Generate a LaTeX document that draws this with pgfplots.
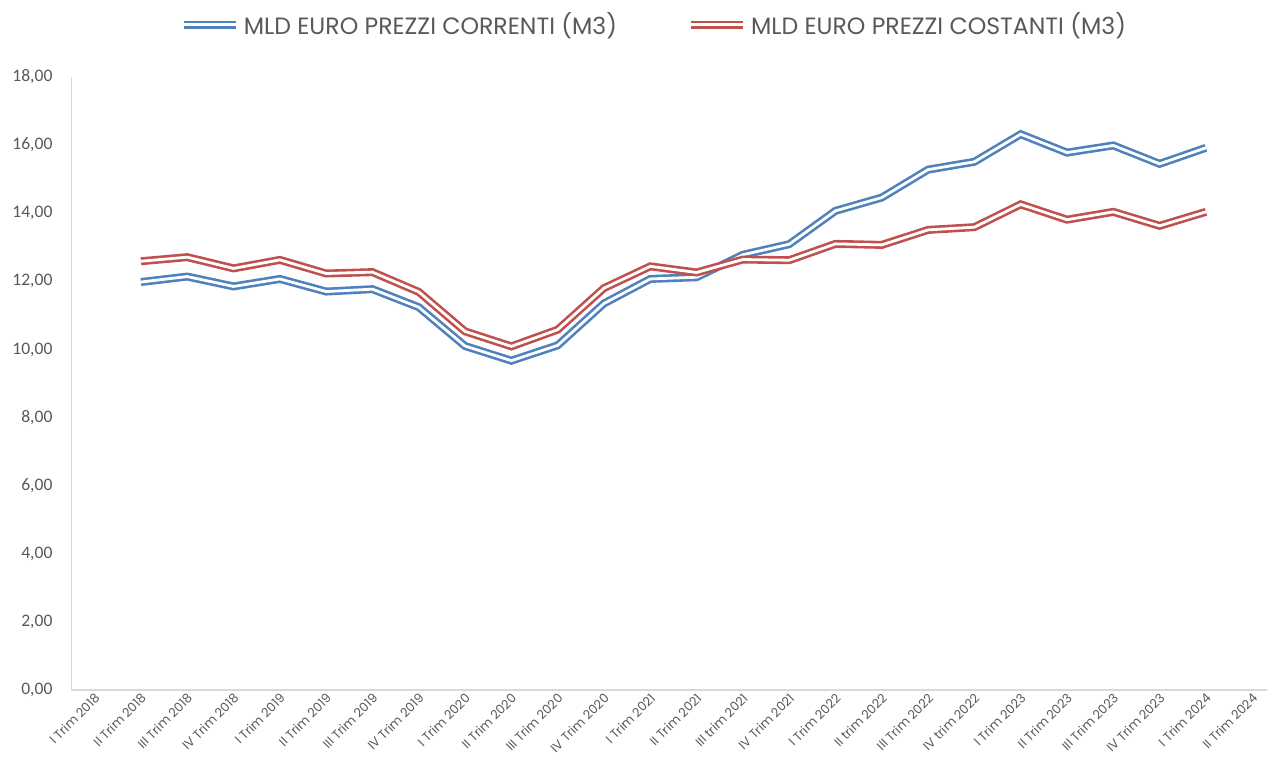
\documentclass[border=0pt]{standalone}
\usepackage{fontspec}
\setmainfont{Poppins}
\newfontfamily\carlito{Carlito}
\usepackage{pgfplots}
\pgfplotsset{compat=1.18}
\definecolor{cblue}{HTML}{4F81BD}
\definecolor{cred}{HTML}{C0504D}
\definecolor{ctext}{HTML}{595959}
\definecolor{caxis}{HTML}{D9D9D9}
\begin{document}
\begin{tikzpicture}
\path[use as bounding box] (0,0) rectangle (633.5pt,380pt);
\begin{axis}[
  at={(35.75pt,35pt)}, anchor=south west,
  scale only axis, width=597.75pt, height=306.5pt,
  xmin=-0.5, xmax=25.32, ymin=0, ymax=18,
  axis x line=bottom, axis y line=left,
  axis line style={-, draw=caxis, line width=0.6pt},
  major tick length=0pt,
  xtick={0,...,25},
  xticklabels={I Trim 2018, II Trim 2018, III Trim 2018, IV Trim 2018, I Trim 2019, II Trim 2019, III Trim 2019, IV Trim 2019, I Trim 2020, II Trim 2020, III Trim 2020, IV Trim 2020, I Trim 2021, II Trim 2021, III trim 2021, IV Trim 2021, I Trim 2022, II trim 2022, III Trim 2022, IV trim 2022, I Trim 2023, II Trim 2023, III Trim 2023, IV Trim 2023, I Trim 2024, II Trim 2024},
  xticklabel style={rotate=45, anchor=east, font=\fontsize{6.3}{7}\selectfont, text=ctext, inner sep=1pt, yshift=-3pt},
  ytick={0,2,...,18},
  yticklabel={\pgfmathprintnumber[fixed,fixed zerofill,precision=2,use comma,assume math mode=true]{\tick}},
  yticklabel style={font=\carlito\fontsize{8.8}{10}\selectfont, text=ctext, xshift=-6pt},
  legend columns=2,
  legend style={at={(0.488,1.085)}, anchor=center, draw=none, fill=none,
    font=\fontsize{11.8}{14}\selectfont, text=ctext,
    /tikz/every even column/.append style={column sep=33pt}},
  legend image code/.code={\draw[#1] (0pt,0pt) -- (26pt,0pt);},
  dbl/.style={line width=4pt, line join=miter, postaction={draw=white, line width=1.4pt}},
]
\addplot[draw=cblue, dbl] coordinates {
(1,11.98) (2,12.14) (3,11.85) (4,12.07) (5,11.70) (6,11.77) (7,11.24) (8,10.10)
(9,9.67) (10,10.12) (11,11.35) (12,12.07) (13,12.12) (14,12.78) (15,13.09) (16,14.07)
(17,14.46) (18,15.28) (19,15.51) (20,16.32) (21,15.78) (22,15.99) (23,15.45) (24,15.92)};
\addlegendentry{MLD EURO PREZZI CORRENTI (M3)}
\addplot[draw=cred, dbl] coordinates {
(1,12.59) (2,12.71) (3,12.38) (4,12.63) (5,12.23) (6,12.27) (7,11.69) (8,10.53)
(9,10.09) (10,10.58) (11,11.80) (12,12.44) (13,12.26) (14,12.64) (15,12.62) (16,13.10)
(17,13.07) (18,13.51) (19,13.59) (20,14.26) (21,13.81) (22,14.04) (23,13.63) (24,14.04)};
\addlegendentry{MLD EURO PREZZI COSTANTI (M3)}
\end{axis}
\end{tikzpicture}
\end{document}
